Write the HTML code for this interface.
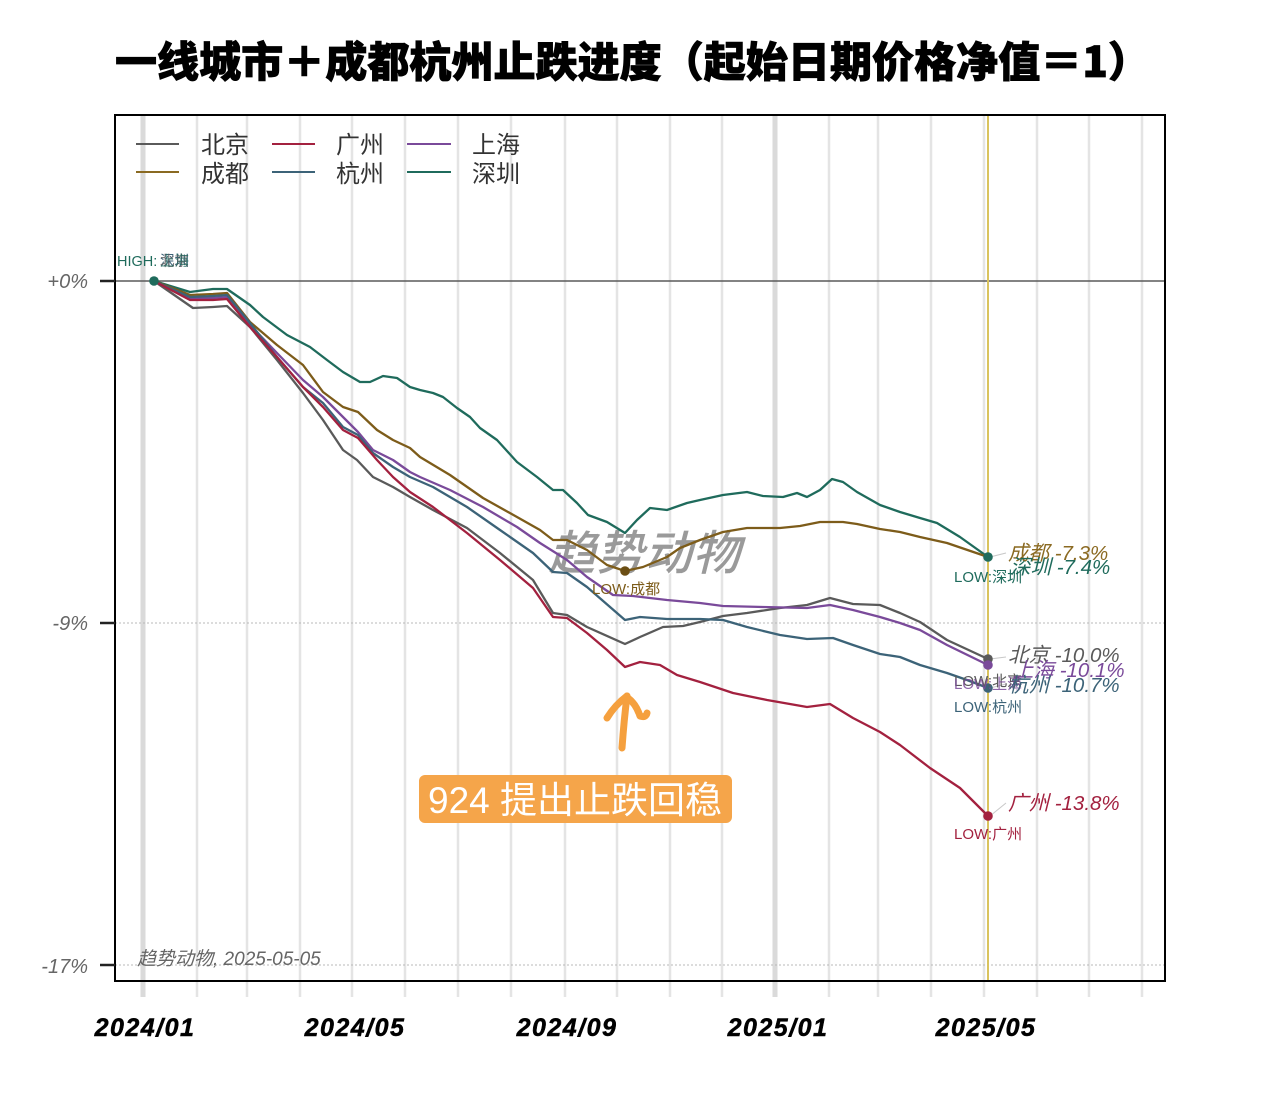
<!DOCTYPE html>
<html><head><meta charset="utf-8">
<style>
html,body{margin:0;padding:0;background:#fff;}
svg{display:block;}
text{font-family:"Liberation Sans","Noto Sans CJK SC",sans-serif;}
</style></head>
<body>
<svg width="1280" height="1097" viewBox="0 0 1280 1097" xmlns="http://www.w3.org/2000/svg">
<rect width="1280" height="1097" fill="#fff"/>
<!-- Title -->
<text x="115" y="77" font-size="42" font-weight="900" fill="#000" stroke="#000" stroke-width="0.8" textLength="1035" lengthAdjust="spacingAndGlyphs" style="font-family:'Noto Sans CJK SC','Liberation Sans',sans-serif">一线城市＋成都杭州止跌进度（起始日期价格净值＝1）</text>

<!-- vertical grid lines -->
<g stroke="#e4e4e4" stroke-width="2.5">
<line x1="197" y1="116" x2="197" y2="997"/>
<line x1="247" y1="116" x2="247" y2="997"/>
<line x1="300" y1="116" x2="300" y2="997"/>
<line x1="352" y1="116" x2="352" y2="997"/>
<line x1="405" y1="116" x2="405" y2="997"/>
<line x1="458" y1="116" x2="458" y2="997"/>
<line x1="511" y1="116" x2="511" y2="997"/>
<line x1="565" y1="116" x2="565" y2="997"/>
<line x1="617" y1="116" x2="617" y2="997"/>
<line x1="670" y1="116" x2="670" y2="997"/>
<line x1="722" y1="116" x2="722" y2="997"/>
<line x1="829" y1="116" x2="829" y2="997"/>
<line x1="878" y1="116" x2="878" y2="997"/>
<line x1="931" y1="116" x2="931" y2="997"/>
<line x1="984" y1="116" x2="984" y2="997"/>
<line x1="1037" y1="116" x2="1037" y2="997"/>
<line x1="1089" y1="116" x2="1089" y2="997"/>
<line x1="1142" y1="116" x2="1142" y2="997"/>
</g>
<g stroke="#dadada" stroke-width="5">
<line x1="143" y1="116" x2="143" y2="997"/>
<line x1="775" y1="116" x2="775" y2="997"/>
</g>

<!-- horizontal lines -->
<line x1="115" y1="623" x2="1165" y2="623" stroke="#b8b8b8" stroke-width="1" stroke-dasharray="2,2"/>
<line x1="115" y1="965" x2="1165" y2="965" stroke="#b8b8b8" stroke-width="1" stroke-dasharray="2,2"/>
<line x1="115" y1="281" x2="1165" y2="281" stroke="#5a5a5a" stroke-width="1.5"/>

<!-- yellow current line -->
<line x1="988" y1="116" x2="988" y2="981" stroke="#d9c35e" stroke-width="2"/>

<!-- axis box -->
<rect x="115" y="115" width="1050" height="866" fill="none" stroke="#000" stroke-width="2"/>
<g stroke="#222" stroke-width="2.5">
<line x1="100" y1="281" x2="115" y2="281"/>
<line x1="100" y1="623" x2="115" y2="623"/>
<line x1="100" y1="965" x2="115" y2="965"/>
</g>

<!-- y labels -->
<g font-size="20" font-style="italic" fill="#666" text-anchor="end">
<text x="88" y="288">+0%</text>
<text x="88" y="630">-9%</text>
<text x="88" y="973">-17%</text>
</g>

<!-- x labels -->
<g font-size="25" font-style="italic" font-weight="bold" fill="#000" text-anchor="middle" letter-spacing="1.5" stroke="#000" stroke-width="0.5">
<text x="145" y="1036">2024/01</text>
<text x="355" y="1036">2024/05</text>
<text x="567" y="1036">2024/09</text>
<text x="778" y="1036">2025/01</text>
<text x="986" y="1036">2025/05</text>
</g>

<!-- legend -->
<g stroke-width="2">
<line x1="136" y1="144" x2="179" y2="144" stroke="#5a5a5a"/>
<line x1="136" y1="172" x2="179" y2="172" stroke="#8a6a22"/>
<line x1="272" y1="144" x2="315" y2="144" stroke="#a3213f"/>
<line x1="272" y1="172" x2="315" y2="172" stroke="#3c6378"/>
<line x1="407" y1="144" x2="451" y2="144" stroke="#7a4a9a"/>
<line x1="407" y1="172" x2="451" y2="172" stroke="#1f6b5c"/>
</g>
<g font-size="24" fill="#333">
<text x="201" y="153">北京</text>
<text x="201" y="182">成都</text>
<text x="336" y="153">广州</text>
<text x="336" y="182">杭州</text>
<text x="472" y="153">上海</text>
<text x="472" y="182">深圳</text>
</g>

<!-- watermark -->
<text x="548" y="570" font-size="48" font-weight="bold" font-style="italic" fill="#8f8f8f" fill-opacity="0.9" stroke="#fff" stroke-width="1">趋势动物</text>

<!-- source -->
<text x="137" y="965" font-size="19" font-style="italic" fill="#666">趋势动物, 2025-05-05</text>

<!-- series -->
<g fill="none" stroke-width="2.3" stroke-linejoin="round">
<polyline stroke="#1f6b5c" points="154,281 190,292 213,289 227,289 250,305 263,317 287,335 310,347 327,360 343,372 360,382 370,382 383,376 397,378 410,387 420,390 433,393 443,397 457,408 470,417 480,428 497,440 517,462 537,477 553,490 563,490 577,503 588,515 607,522 625,533 637,520 650,508 667,510 687,503 700,500 723,495 747,492 763,496 783,497 797,493 807,497 820,490 832,479 843,482 857,492 880,505 900,512 920,518 937,523 960,537 988,557"/>
<polyline stroke="#7d5c1a" points="154,281 190,295 213,294 227,293 250,322 277,345 303,365 323,392 343,407 358,412 377,430 393,440 410,448 420,457 450,475 483,498 517,517 540,530 553,540 567,540 587,550 607,565 625,571 643,567 667,557 680,548 700,540 723,532 747,528 780,528 800,526 820,522 843,522 857,524 880,529 900,532 920,537 947,543 988,557"/>
<polyline stroke="#5a5a5a" points="154,281 193,308 213,307 227,306 250,327 277,360 303,393 323,420 343,450 357,460 373,477 393,487 410,497 433,510 467,528 500,553 533,580 553,613 567,615 587,627 625,644 640,637 663,627 683,626 700,622 723,616 747,613 780,608 807,605 830,598 853,604 880,605 900,613 920,622 947,640 988,659"/>
<polyline stroke="#7a4a9a" points="154,281 190,298 213,298 227,297 250,325 277,353 303,380 323,397 343,417 358,432 373,450 393,460 410,472 420,477 450,490 483,507 517,527 540,543 567,560 587,577 613,595 633,596 667,600 700,603 723,606 763,607 807,608 830,605 853,610 880,617 900,623 920,630 947,645 988,665"/>
<polyline stroke="#3c6378" points="154,281 190,297 213,296 227,295 250,323 277,357 303,387 323,403 343,427 358,435 373,453 393,467 410,477 433,487 467,507 500,530 533,553 553,572 567,573 587,587 625,620 640,617 667,619 700,619 723,620 747,627 780,635 807,639 833,638 853,645 880,654 900,657 920,665 947,673 967,680 988,688"/>
<polyline stroke="#a3213f" points="154,281 190,300 213,300 227,299 250,327 277,357 303,387 323,407 343,430 358,438 377,460 393,477 410,492 433,507 467,533 500,560 533,588 553,617 567,618 587,633 607,650 625,667 640,662 660,665 677,675 700,682 733,693 767,700 807,707 830,704 853,718 880,732 900,745 930,768 960,788 988,816"/>
</g>

<!-- connectors -->
<g stroke="#c8c8c8" stroke-width="1">
<line x1="990" y1="557" x2="1006" y2="553"/>
<line x1="990" y1="659" x2="1006" y2="657"/>
<line x1="990" y1="688" x2="1006" y2="684"/>
<line x1="990" y1="816" x2="1006" y2="803"/>
</g>

<!-- dots -->
<circle cx="154" cy="281" r="4.8" fill="#1f6b5c"/>
<circle cx="625" cy="571" r="4.8" fill="#6b4e14"/>
<circle cx="988" cy="557" r="4.8" fill="#1f6b5c"/>
<circle cx="988" cy="659" r="4.8" fill="#5a5a5a"/>
<circle cx="988" cy="665" r="4.8" fill="#7a4a9a"/>
<circle cx="988" cy="688" r="4.8" fill="#3c6378"/>
<circle cx="988" cy="816" r="4.8" fill="#a3213f"/>

<!-- HIGH label -->
<text x="117" y="266" font-size="14.5" fill="#1f6b5c">HIGH:</text>
<text x="160" y="266" font-size="14.5" fill="#3c6378">深圳</text>
<text x="160" y="266" font-size="14.5" fill="#5a5a5a" fill-opacity="0.8">北京</text>
<text x="160" y="266" font-size="14.5" fill="#1f6b5c" fill-opacity="0.7">上海</text>

<!-- LOW labels -->
<g font-size="15">
<text x="592" y="594" fill="#7d5c1a">LOW:成都</text>
<text x="954" y="582" fill="#1f6b5c">LOW:深圳</text>
<text x="954" y="686" fill="#5a5a5a">LOW:北京</text>
<text x="954" y="689" fill="#7a4a9a" fill-opacity="0.85">LOW:上海</text>
<text x="954" y="712" fill="#3c6378">LOW:杭州</text>
<text x="954" y="839" fill="#a3213f">LOW:广州</text>
</g>

<!-- end labels -->
<g font-size="20.5" font-style="italic">
<text x="1008" y="560" fill="#8b6a22">成都 -7.3%</text>
<text x="1010" y="574" fill="#1f6b5c">深圳 -7.4%</text>
<text x="1008" y="662" fill="#5a5a5a">北京 -10.0%</text>
<text x="1013" y="677" fill="#7a4a9a">上海 -10.1%</text>
<text x="1008" y="692" fill="#3c6378">杭州 -10.7%</text>
<text x="1008" y="810" fill="#a3213f">广州 -13.8%</text>
</g>

<!-- annotation arrow -->
<g fill="none" stroke="#f5a03e" stroke-width="7" stroke-linecap="round" stroke-linejoin="round">
<path d="M622,748 Q624,720 627,696"/>
<path d="M627,696 Q615,705 607,718"/>
<path d="M628,698 Q636,704 640,716 Q646,718 647,713"/>
</g>

<!-- annotation box -->
<rect x="419" y="775" width="313" height="48" rx="6" ry="6" fill="#f5a54a"/>
<text x="428" y="813" font-size="37" fill="#fff" textLength="294" lengthAdjust="spacingAndGlyphs">924 提出止跌回稳</text>
</svg>
</body></html>
